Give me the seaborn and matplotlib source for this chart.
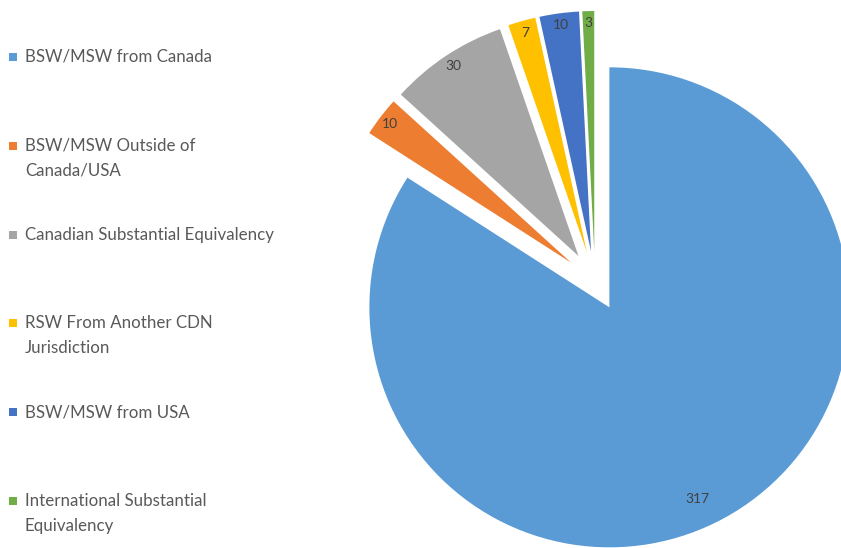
import matplotlib
matplotlib.use("Agg")
import matplotlib.pyplot as plt
import seaborn as sns
import numpy as np

categories = [
    "BSW/MSW from Canada",
    "BSW/MSW Outside of\nCanada/USA",
    "Canadian Substantial Equivalency",
    "RSW From Another CDN\nJurisdiction",
    "BSW/MSW from USA",
    "International Substantial\nEquivalency",
]
values = [317, 10, 30, 7, 10, 3]
colors = ["#5B9BD5", "#ED7D31", "#A5A5A5", "#FFC000", "#4472C4", "#70AD47"]

sns.set_theme(style="white")
plt.rcParams["font.family"] = ["Lato", "DejaVu Sans"]

W, H = 841, 548
fig = plt.figure(figsize=(W / 100, H / 100), dpi=100)
ax = fig.add_axes([0, 0, 1, 1])

R = 240
cx, cy = 595, H - 281
wedges, _ = ax.pie(values, colors=colors, radius=R, center=(cx, cy),
                   startangle=90, counterclock=False, explode=[30] * len(values),
                   wedgeprops=dict(linewidth=0))

ax.set_xlim(0, W)
ax.set_ylim(0, H)
ax.set_aspect("equal")
ax.axis("off")

# data labels
for i, (w, v) in enumerate(zip(wedges, values)):
    mid = 0.5 * (w.theta1 + w.theta2)
    dist = 0.95
    if i == 0:
        mid -= 4
        dist = 0.88
    a = np.deg2rad(mid)
    x = w.center[0] + dist * w.r * np.cos(a)
    y = w.center[1] + dist * w.r * np.sin(a)
    ax.text(x, y, str(v), ha="center", va="center", fontsize=10, color="#404040")

# legend
y0, step, lh = 57, 88.8, 24.5
for i, (lab, c) in enumerate(zip(categories, colors)):
    ypx = y0 + i * step
    ax.scatter([13.5], [H - ypx], marker="s", s=26, color=c, linewidths=0)
    for k, line in enumerate(lab.split("\n")):
        ax.text(25, H - (ypx + k * lh), line, ha="left", va="center",
                fontsize=12.2, color="#595959")

fig.savefig("out.png", dpi=100)
